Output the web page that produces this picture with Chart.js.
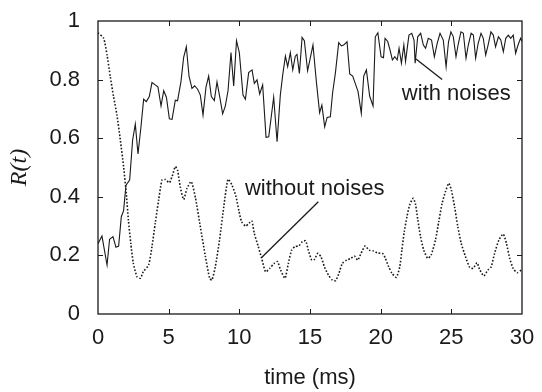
<!DOCTYPE html>
<html>
<head>
<meta charset="utf-8">
<script src="https://cdn.jsdelivr.net/npm/chart.js@4"></script>
<style>
html,body{margin:0;padding:0;background:#fff;}
#wrap{width:542px;height:392px;}
</style>
</head>
<body>
<div id="wrap"><canvas id="c" width="542" height="392"></canvas></div>
<script>
// time (ms) and R(t) for the noisy run (solid line)
const noisyT = [0,0.28,0.64,0.82,1.06,1.27,1.46,1.65,1.81,1.98,2.24,2.45,2.64,2.83,3.04,3.23,3.42,3.63,3.82,4.05,4.24,4.46,4.65,4.84,5.05,5.24,5.47,5.63,5.87,6.06,6.25,6.44,6.65,6.84,7.05,7.24,7.43,7.64,7.83,8.02,8.23,8.42,8.61,8.82,9.01,9.2,9.41,9.6,9.8,10.0,10.26,10.43,10.66,10.9,11.06,11.25,11.44,11.65,11.89,12.08,12.43,12.67,12.9,13.07,13.26,13.42,13.61,13.78,13.96,14.08,14.25,14.44,14.6,14.83,15.0,15.21,15.45,15.68,15.84,16.04,16.21,16.44,16.6,16.8,17.03,17.22,17.38,17.62,17.81,18.02,18.2,18.4,18.63,18.8,18.99,19.22,19.46,19.62,19.8,20.03,20.2,20.31,20.5,20.67,20.83,21.0,21.17,21.3,21.47,21.64,21.76,22.0,22.2,22.36,22.44,22.62,22.83,23.02,23.18,23.37,23.6,23.8,24.0,24.2,24.43,24.63,24.8,24.97,25.14,25.33,25.5,25.68,25.85,26.04,26.2,26.4,26.56,26.72,26.9,27.1,27.26,27.43,27.6,27.8,27.97,28.13,28.33,28.5,28.68,28.85,29.03,29.2,29.38,29.55,29.72,29.9,30];
const noisyR = [0.24,0.266,0.167,0.255,0.264,0.228,0.232,0.332,0.353,0.44,0.457,0.594,0.648,0.546,0.639,0.733,0.725,0.742,0.79,0.782,0.775,0.71,0.762,0.74,0.666,0.664,0.73,0.728,0.793,0.876,0.912,0.812,0.77,0.779,0.767,0.747,0.679,0.774,0.812,0.742,0.728,0.792,0.742,0.683,0.71,0.762,0.892,0.778,0.933,0.892,0.747,0.733,0.824,0.833,0.787,0.799,0.751,0.782,0.603,0.605,0.74,0.588,0.747,0.816,0.88,0.844,0.892,0.833,0.88,0.886,0.821,0.944,0.933,0.83,0.869,0.918,0.793,0.687,0.713,0.639,0.671,0.673,0.755,0.824,0.926,0.915,0.918,0.929,0.819,0.812,0.787,0.759,0.685,0.812,0.833,0.744,0.71,0.946,0.96,0.878,0.875,0.941,0.93,0.9,0.867,0.878,0.867,0.907,0.856,0.918,0.862,0.952,0.958,0.935,0.856,0.946,0.958,0.918,0.907,0.941,0.935,0.878,0.924,0.958,0.935,0.844,0.929,0.963,0.946,0.878,0.924,0.963,0.958,0.873,0.918,0.958,0.952,0.873,0.924,0.958,0.941,0.884,0.918,0.963,0.952,0.912,0.946,0.935,0.895,0.941,0.952,0.941,0.952,0.89,0.918,0.941,0.93];

// time (ms) and R(t) for the noise-free run (dotted line)
const cleanT = [0,0.4,0.64,0.87,1.1,1.34,1.58,1.81,2.0,2.15,2.32,2.5,2.76,3.0,3.2,3.58,3.82,4.05,4.29,4.53,4.77,5.05,5.24,5.47,5.63,5.82,6.06,6.3,6.6,6.9,7.24,7.6,7.9,8.06,8.3,8.6,8.9,9.2,9.48,9.75,9.97,10.16,10.45,10.69,10.88,11.06,11.34,11.58,11.86,12.16,12.47,12.7,12.92,13.23,13.47,13.7,13.94,14.22,14.46,14.69,14.88,15.12,15.31,15.55,15.78,16.02,16.3,16.58,16.82,17.05,17.29,17.6,17.9,18.14,18.38,18.61,18.9,19.18,19.49,19.74,20.17,20.33,20.57,20.8,21.11,21.35,21.5,21.67,21.86,22.05,22.3,22.46,22.63,22.82,23.05,23.33,23.57,23.88,24.11,24.35,24.58,24.82,25.0,25.23,25.46,25.7,26.0,26.3,26.54,26.82,27.0,27.3,27.58,27.82,28.06,28.37,28.67,28.9,29.13,29.37,29.66,30];
const cleanR = [0.96,0.941,0.884,0.81,0.742,0.679,0.594,0.503,0.412,0.321,0.241,0.173,0.127,0.122,0.144,0.167,0.23,0.31,0.389,0.457,0.459,0.448,0.469,0.503,0.49,0.434,0.391,0.429,0.452,0.395,0.298,0.196,0.122,0.116,0.161,0.253,0.366,0.46,0.44,0.403,0.352,0.315,0.3,0.31,0.318,0.275,0.23,0.19,0.144,0.156,0.173,0.179,0.15,0.122,0.173,0.218,0.23,0.233,0.247,0.25,0.218,0.184,0.186,0.207,0.195,0.161,0.133,0.116,0.114,0.139,0.173,0.184,0.19,0.198,0.184,0.207,0.232,0.218,0.215,0.209,0.205,0.19,0.161,0.139,0.125,0.161,0.218,0.281,0.332,0.372,0.395,0.376,0.321,0.264,0.218,0.19,0.201,0.253,0.315,0.378,0.417,0.446,0.423,0.366,0.298,0.241,0.196,0.159,0.156,0.175,0.152,0.13,0.15,0.161,0.207,0.253,0.273,0.241,0.19,0.156,0.141,0.152];

const xTicks = [0,5,10,15,20,25,30];
const yTicks = [0,0.2,0.4,0.6,0.8,1];
const xTickLabels = ["0","5","10","15","20","25","30"];
const yTickLabels = ["0","0.2","0.4","0.6","0.8","1"];

// annotation labels: text, text anchor (left, baseline) and pointer ends, in data units
const annoText = ["with noises","without noises"];
const annoTextPos = [[21.5,0.73],[10.4,0.406]];
const annoLineFrom = [[22.5,0.87],[11.58,0.193]];
const annoLineTo = [[24.35,0.80],[15.59,0.383]];

const pts = (t, r) => t.map((v, i) => ({x: v, y: r[i]}));

const FONT = '"Liberation Sans", Arial, Helvetica, sans-serif';
const INK = '#1a1a1a';

const framePlugin = {
  id: 'frame',
  afterDatasetsDraw(chart) {
    const {ctx, chartArea: a, scales: {x, y}} = chart;
    ctx.save();
    ctx.strokeStyle = INK;
    ctx.lineWidth = 1.3;
    ctx.strokeRect(a.left, a.top, a.right - a.left, a.bottom - a.top);
    ctx.lineWidth = 1;
    const L = 5;
    xTicks.forEach(v => {
      if (v === 0 || v === 30) return;
      const px = Math.round(x.getPixelForValue(v)) + 0.5;
      ctx.beginPath();
      ctx.moveTo(px, a.bottom); ctx.lineTo(px, a.bottom - L);
      ctx.moveTo(px, a.top); ctx.lineTo(px, a.top + L);
      ctx.stroke();
    });
    yTicks.forEach(v => {
      if (v === 0 || v === 1) return;
      const py = Math.round(y.getPixelForValue(v)) + 0.5;
      ctx.beginPath();
      ctx.moveTo(a.left, py); ctx.lineTo(a.left + L, py);
      ctx.moveTo(a.right, py); ctx.lineTo(a.right - L, py);
      ctx.stroke();
    });
    // annotations
    ctx.fillStyle = INK;
    ctx.font = '22px ' + FONT;
    ctx.textBaseline = 'alphabetic';
    ctx.textAlign = 'left';
    ctx.lineWidth = 1.3;
    annoText.forEach((t, i) => {
      ctx.fillText(t, x.getPixelForValue(annoTextPos[i][0]), y.getPixelForValue(annoTextPos[i][1]));
      ctx.beginPath();
      ctx.moveTo(x.getPixelForValue(annoLineFrom[i][0]), y.getPixelForValue(annoLineFrom[i][1]));
      ctx.lineTo(x.getPixelForValue(annoLineTo[i][0]), y.getPixelForValue(annoLineTo[i][1]));
      ctx.stroke();
    });
    ctx.restore();
  }
};

new Chart(document.getElementById('c'), {
  type: 'line',
  data: {
    datasets: [
      {label: 'with noises', data: pts(noisyT, noisyR), borderColor: INK, borderWidth: 1.1, pointRadius: 0, tension: 0, fill: false},
      {label: 'without noises', data: pts(cleanT, cleanR), borderColor: INK, borderWidth: 1.6, borderDash: [1.6, 1.8], pointRadius: 0, tension: 0.2, fill: false}
    ]
  },
  options: {
    responsive: false,
    animation: false,
    devicePixelRatio: 1,
    layout: {padding: {top: 21, right: 20, left: 0, bottom: 0}},
    plugins: {legend: {display: false}, tooltip: {enabled: false}},
    scales: {
      x: {
        type: 'linear', min: 0, max: 30,
        afterBuildTicks: s => { s.ticks = xTicks.map(v => ({value: v})); },
        afterFit: s => { s.height = 78; s.paddingLeft = 0; s.paddingRight = 0; },
        grid: {display: false, drawTicks: false},
        border: {display: false},
        ticks: {color: INK, font: {family: FONT, size: 22}, padding: 11, maxRotation: 0,
                callback: (v) => xTickLabels[xTicks.indexOf(v)]},
        title: {display: true, text: 'time (ms)', color: INK, font: {family: FONT, size: 22}, padding: {top: 2, bottom: 1}}
      },
      y: {
        type: 'linear', min: 0, max: 1,
        afterBuildTicks: s => { s.ticks = yTicks.map(v => ({value: v})); },
        afterFit: s => { s.width = 98; s.paddingTop = 0; s.paddingBottom = 0; },
        grid: {display: false, drawTicks: false},
        border: {display: false},
        ticks: {color: INK, font: {family: FONT, size: 22}, padding: 18,
                callback: (v) => yTickLabels[yTicks.indexOf(v)]},
        title: {display: true, text: 'R(t)', color: INK, font: {family: '"Liberation Serif", "Times New Roman", serif', size: 24, style: 'italic'}, padding: {top: 5, bottom: 0}}
      }
    }
  },
  plugins: [framePlugin]
});
</script>
</body>
</html>
